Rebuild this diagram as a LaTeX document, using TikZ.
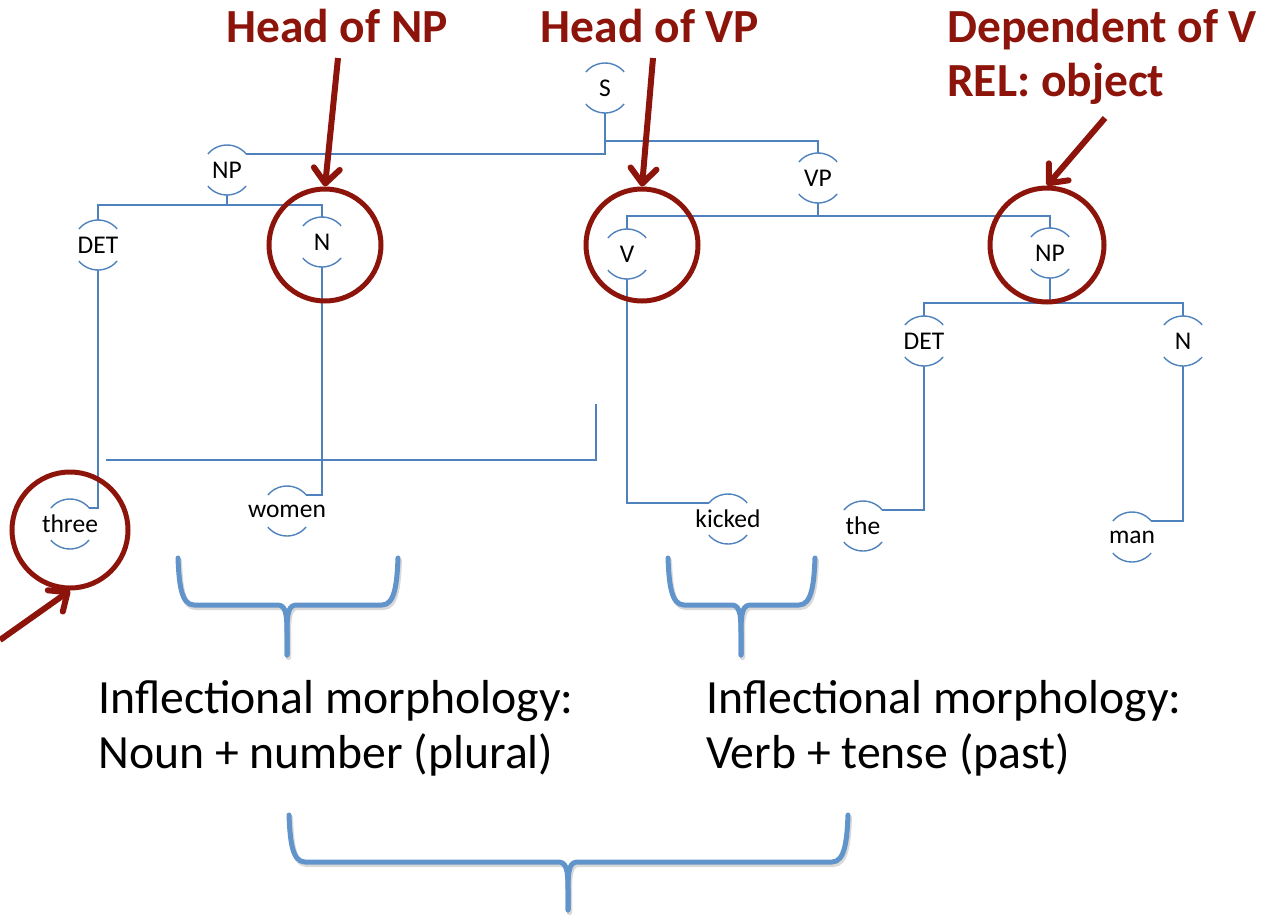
\documentclass[tikz,border=0pt]{standalone}
\usepackage{fontspec}
\setmainfont{Carlito}
\usetikzlibrary{arrows.meta}
\definecolor{treeblue}{RGB}{79,129,189}
\definecolor{braceblue}{RGB}{98,148,204}
\definecolor{darkred}{RGB}{140,20,10}
% zero-width label so every category node keeps the same arc radius
\newcommand\midword[1]{\makebox[0pt]{#1}}
% one curly brace: left x, right x, middle x, top y, bar y, tip y
\newcommand\bracestroke[6]{%
  \draw[brace] (#1,#4) .. controls (#1+1,#5-22) and (#1+3,#5) .. (#1+16,#5)
    -- (#3-10,#5) .. controls (#3-2,#5) and (#3,#5+6) .. (#3,#5+28) -- (#3,#6);
  \draw[brace] (#2,#4) .. controls (#2-1,#5-22) and (#2-3,#5) .. (#2-16,#5)
    -- (#3+10,#5) .. controls (#3+2,#5) and (#3,#5+6) .. (#3,#5+28) -- (#3,#6);}
% brace with a soft drop shadow
\newcommand\curlybrace[6]{%
  \begin{scope}[shift={(1.5,2.5)}, brace/.append style={draw=black!15}]
    \bracestroke{#1}{#2}{#3}{#4}{#5}{#6}
  \end{scope}
  \bracestroke{#1}{#2}{#3}{#4}{#5}{#6}}
\begin{document}
\begin{tikzpicture}[x=1pt,y=-1pt,
  tree/.style={draw=treeblue, line width=1.4pt},
  cat/.style={circle, minimum size=50pt, inner sep=0pt, outer sep=0pt,
    font=\fontsize{25.5}{30}\selectfont},
  ring/.style={circle, draw=darkred, line width=5pt, inner sep=0pt},
  pointer/.style={draw=darkred, line width=6pt,
    -{Straight Barb[length=15pt,width=26pt,round]}},
  title/.style={text=darkred, font=\bfseries\fontsize{47.5}{56}\selectfont, inner sep=0pt},
  note/.style={font=\fontsize{47.7}{56}\selectfont, inner sep=0pt, anchor=base west},
  brace/.style={draw=braceblue, line width=5pt, line cap=round, line join=round},
]
\useasboundingbox (0,0) rectangle (1272,916);

% category and word nodes
\node[cat] (s)      at (605,88)  {\midword{S}};
\node[cat] (np1)    at (227,170) {\midword{NP}};
\node[cat] (det1)   at (98,245)  {\midword{DET}};
\node[cat] (n1)     at (322,242) {\midword{N}};
\node[cat] (three)  at (70,524)  {\midword{three}};
\node[cat] (women)  at (287,511) {\midword{women}};
\node[cat] (vp)     at (818,178) {\midword{VP}};
\node[cat] (v)      at (627,254) {\midword{V}};
\node[cat] (np2)    at (1050,253) {\midword{NP}};
\node[cat] (det2)   at (924,341) {\midword{DET}};
\node[cat] (n2)     at (1183,341) {\midword{N}};
\node[cat] (kicked) at (728,519) {\midword{kicked}};
\node[cat] (the)    at (863,526) {\midword{the}};
\node[cat] (man)    at (1132,537) {\midword{man}};

% the cap and cup arcs around each label (drawn with an upward y axis)
\foreach \n in {s,np1,det1,n1,three,women,vp,v,np2,det2,n2,kicked,the,man}{
  \draw[tree, y=1pt] (\n.40) arc[start angle=40,end angle=140,radius=25];
  \draw[tree, y=1pt] (\n.220) arc[start angle=220,end angle=320,radius=25];
}

% tree branches
\draw[tree] (s.south) |- (np1.40);
\draw[tree] (s.south) -- ++(0,28) -| (vp.north);
\draw[tree] (np1.south) -- ++(0,10) -| (det1.north);
\draw[tree] (np1.south) -- ++(0,10) -| (n1.north);
\draw[tree] (det1.south) |- (three.40);
\draw[tree] (n1.south) |- (women.40);
\draw[tree] (vp.south) -- ++(0,13) -| (v.north);
\draw[tree] (vp.south) -- ++(0,13) -| (np2.north);
\draw[tree] (v.south) |- (kicked.140);
\draw[tree] (np2.south) -- ++(0,25) -| (det2.north);
\draw[tree] (np2.south) -- ++(0,25) -| (n2.north);
\draw[tree] (det2.south) |- (the.40);
\draw[tree] (n2.south) |- (man.40);

% loose bracket line
\coordinate (u1) at (106,460);
\coordinate (u2) at (596,404);
\draw[tree] (u1) -| (u2);

% highlight rings
\node[ring, minimum size=112pt] (r1) at (325,245) {};
\node[ring, minimum size=112pt] (r2) at (642,245) {};
\node[ring, minimum size=114pt] (r3) at (1047,245) {};
\node[ring, minimum size=116pt] (r4) at (70,530) {};

% headings
\node[title, anchor=base] (h1) at (337,42) {Head of NP};
\node[title, anchor=base] (h2) at (650,42) {Head of VP};
\node[title, anchor=base west] (h3) at (947,42) {Dependent of V};
\node[title, anchor=base west] (h4) at (947,96) {REL: object};

% pointers
\coordinate (p1) at (338,58);
\coordinate (p2) at (653,58);
\coordinate (p3) at (1105,118);
\coordinate (p4) at (0,640);
\draw[pointer] (p1) -- (r1.north);
\draw[pointer] (p2) -- (r2.north);
\draw[pointer] (p3) -- (r3.north);
\draw[pointer] (p4) -- (r4.south);

% braces
\curlybrace{178}{398}{287}{558}{605}{655}
\curlybrace{668}{815}{741}{558}{605}{655}
\curlybrace{289}{848}{568}{815}{862}{910}

% notes
\node[note] (t1) at (98,713)  {Inflectional morphology:};
\node[note] (t2) at (98,768)  {Noun + number (plural)};
\node[note] (t3) at (706,713) {Inflectional morphology:};
\node[note] (t4) at (706,768) {Verb + tense (past)};
\end{tikzpicture}
\end{document}
